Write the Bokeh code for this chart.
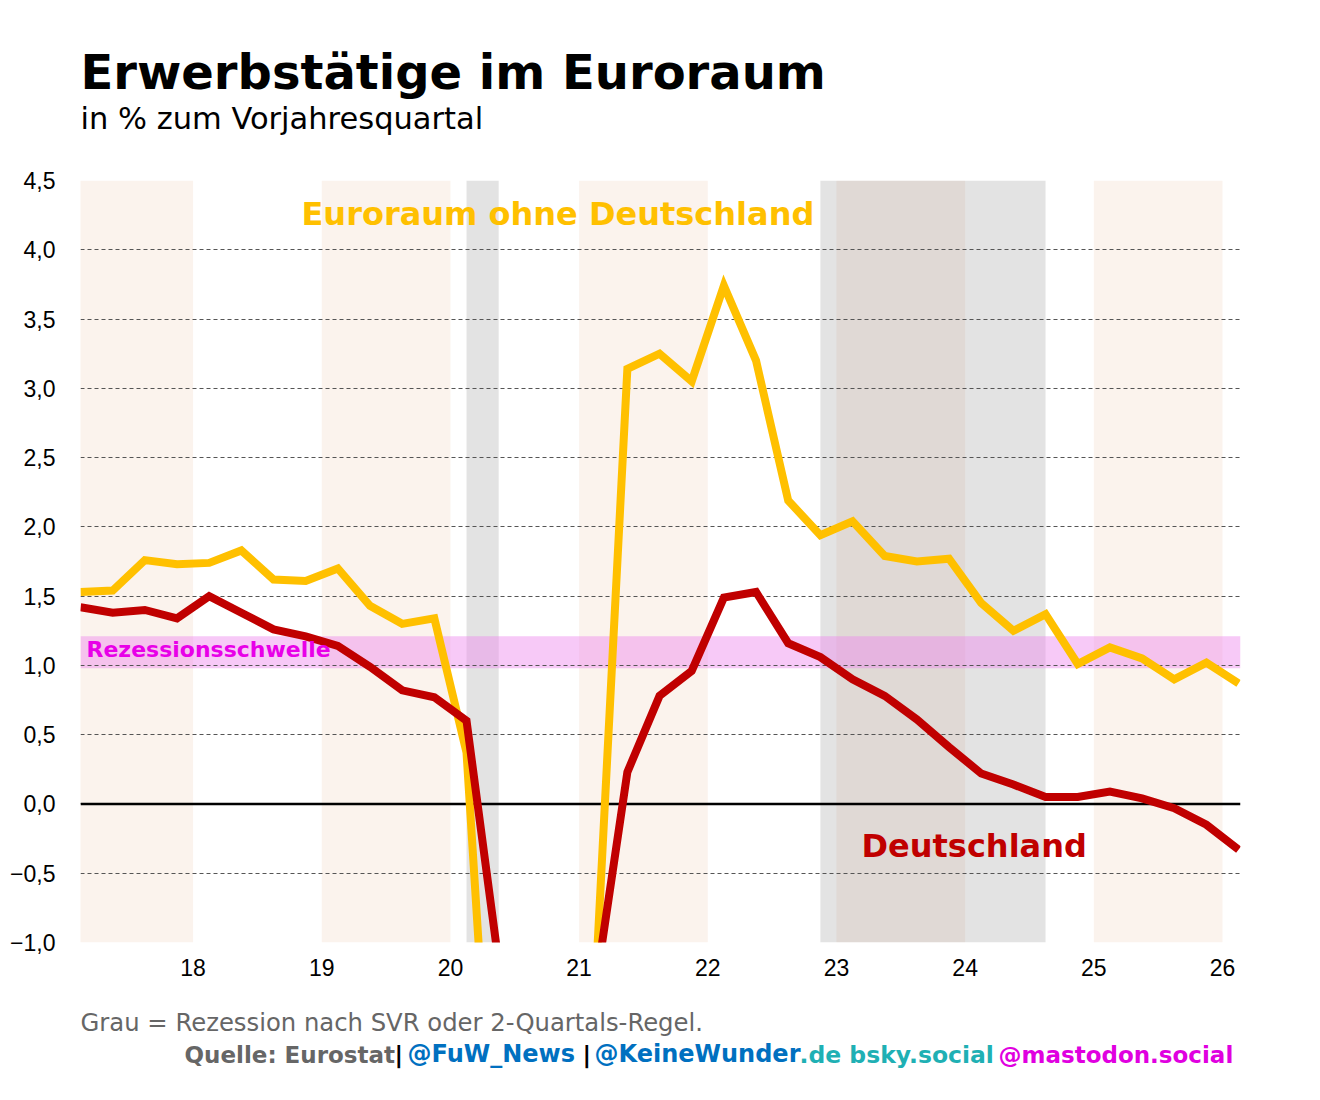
from bokeh.plotting import figure
from bokeh.models import Label, Span, FixedTicker, Range1d
from bokeh.layouts import column
from bokeh.embed import file_html
from bokeh.resources import INLINE

# ---------------- data ----------------
years = [y for y in range(2017, 2027) for _ in range(4)][:37]
quarter = [q for _ in range(2017, 2027) for q in (1, 2, 3, 4)][:37]

euro_ex_de = [1.53, 1.54, 1.76, 1.73,
              1.74, 1.83, 1.62, 1.61,
              1.70, 1.43, 1.30, 1.34,
              0.37, -3.30, -2.30, -2.00,
              -1.35, 3.14, 3.25, 3.05,
              3.74, 3.20, 2.19, 1.94,
              2.04, 1.79, 1.75, 1.77,
              1.45, 1.25, 1.37, 1.01,
              1.13, 1.05, 0.90, 1.02,
              0.87]

deutschland = [1.42, 1.38, 1.40, 1.34,
               1.50, 1.38, 1.26, 1.21,
               1.14, 0.99, 0.82, 0.77,
               0.60, -1.15, -1.30, -1.40,
               -1.34, 0.23, 0.78, 0.96,
               1.49, 1.53, 1.16, 1.06,
               0.90, 0.78, 0.61, 0.41,
               0.22, 0.14, 0.05, 0.05,
               0.09, 0.04, -0.03, -0.15,
               -0.33]

x_ticks = [2018, 2019, 2020, 2021, 2022, 2023, 2024, 2025, 2026]
x_tick_labels = ["18", "19", "20", "21", "22", "23", "24", "25", "26"]
y_ticks = [-1.0, -0.5, 0.0, 0.5, 1.0, 1.5, 2.0, 2.5, 3.0, 3.5, 4.0, 4.5]
y_tick_labels = ["\u22121,0", "\u22120,5", "0,0", "0,5", "1,0", "1,5",
                 "2,0", "2,5", "3,0", "3,5", "4,0", "4,5"]

year_band_start = [2017, 2019, 2021, 2023, 2025]
year_band_end = [2018, 2020, 2022, 2024, 2026]
recession_start = [2020.125, 2022.875]
recession_end = [2020.375, 2024.625]
threshold_low = [0.98]
threshold_high = [1.21]

x_pos = [y + (q - 0.5) / 4 for y, q in zip(years, quarter)]

# ---------------- layout ----------------
W = 1320
HEAD_H, FOOT_H = 168, 96
FL, FR = 80, 1240           # frame left/right (px)
FT, FB = 180, 942           # frame top/bottom (page px)
MAIN_TOP = HEAD_H
MAIN_H = 1000 - HEAD_H
X0, X1 = 2017.125, 2026.14
Y0, Y1 = -1.0, 4.5
BASE_SHIFT = 0.38  # Label alphabetic-baseline correction (em)


def text_fig(h):
    f = figure(width=W, height=h, x_range=Range1d(FL, FR), y_range=Range1d(h, 0),
               output_backend="svg", toolbar_location=None,
               min_border_left=FL, min_border_right=W - FR,
               min_border_top=0, min_border_bottom=0,
               x_axis_location=None, y_axis_location=None)
    f.grid.visible = False
    f.outline_line_color = None
    f.background_fill_color = "white"
    f.border_fill_color = "white"
    return f


def label(fig, text, x, y, size, color, bold=False, font="DejaVu Sans", conv=None):
    yb = y - BASE_SHIFT * size
    if conv is not None:
        x, yb = conv[0](x), conv[1](yb)
    fig.add_layout(Label(x=x, y=yb, text=text, text_font=font,
                         text_font_size=f"{size}px", text_color=color,
                         text_font_style="bold" if bold else "normal",
                         text_align="left", text_baseline="alphabetic"))


# header
head = text_fig(HEAD_H)
label(head, "Erwerbstätige im Euroraum", 80, 90, 48, "black", bold=True)
label(head, "in % zum Vorjahresquartal", 80, 130, 30.5, "black")

# main chart
p = figure(width=W, height=MAIN_H, x_range=Range1d(X0, X1), y_range=Range1d(Y0, Y1),
           output_backend="svg", toolbar_location=None,
           min_border_left=FL, min_border_right=W - FR,
           min_border_top=FT - MAIN_TOP, min_border_bottom=MAIN_TOP + MAIN_H - FB)
p.outline_line_color = None
p.background_fill_color = "white"
p.border_fill_color = "white"

p.xgrid.visible = False
p.ygrid.grid_line_color = "#555555"
p.ygrid.grid_line_dash = "4 3"
p.ygrid.grid_line_width = 1.2

p.yaxis.ticker = FixedTicker(ticks=y_ticks)
p.yaxis.major_label_overrides = {t: l for t, l in zip(y_ticks, y_tick_labels)}
p.xaxis.ticker = FixedTicker(ticks=x_ticks)
p.xaxis.major_label_overrides = {t: l for t, l in zip(x_ticks, x_tick_labels)}
for ax in (p.xaxis, p.yaxis):
    ax.axis_line_color = None
    ax.major_tick_line_color = None
    ax.minor_tick_line_color = None
    ax.major_tick_out = 0
    ax.major_tick_in = 0
    ax.minor_tick_out = 0
    ax.major_label_text_font = "Liberation Sans"
    ax.major_label_text_font_size = "23px"
    ax.major_label_text_color = "black"
p.yaxis.major_label_standoff = 25
p.xaxis.major_label_standoff = 16

# background bands
p.quad(left=year_band_start, right=year_band_end,
       bottom=[Y0] * len(year_band_start), top=[Y1] * len(year_band_start),
       fill_color="#FBF3ED", line_color=None, level="image")
p.quad(left=recession_start, right=recession_end,
       bottom=[Y0] * len(recession_start), top=[Y1] * len(recession_start),
       fill_color="#888888", fill_alpha=0.23, line_color=None, level="image")
p.quad(left=[X0], right=[X1], bottom=threshold_low, top=threshold_high,
       fill_color="#EE88EE", fill_alpha=0.45, line_color=None, level="image")

p.add_layout(Span(location=0, dimension="width", line_color="black",
                  line_width=2.5, level="underlay"))

# series
p.line(x_pos, euro_ex_de, line_color="#FFC000", line_width=8, line_join="miter")
p.line(x_pos, deutschland, line_color="#C00000", line_width=8, line_join="miter")


def dx(px):
    return X0 + (px - FL) / (FR - FL) * (X1 - X0)


def dy(py):
    return Y1 - (py - FT) / (FB - FT) * (Y1 - Y0)


conv = (dx, dy)
label(p, "Euroraum ohne Deutschland", 301, 226, 32, "#FFC000", bold=True, conv=conv)
label(p, "Deutschland", 861, 858, 32, "#C00000", bold=True, conv=conv)
label(p, "Rezessionsschwelle", 86, 657, 22, "#E800E8", bold=True, conv=conv)

# footer
foot = text_fig(FOOT_H)
label(foot, "Grau = Rezession nach SVR oder 2-Quartals-Regel.", 80, 31, 24.3, "#666666")
label(foot, "Quelle: Eurostat", 184, 63, 23, "#666666", bold=True)
label(foot, "|", 394, 63, 23.5, "black", bold=True)
label(foot, "@FuW_News", 407, 63, 24, "#0070C0", bold=True)
label(foot, "|", 582, 63, 23.5, "black", bold=True)
label(foot, "@KeineWunder", 594, 63, 24, "#0070C0", bold=True)
label(foot, ".de bsky.social", 799, 63, 23.5, "#1FB0B4", bold=True)
label(foot, "@mastodon.social", 998, 63, 23, "#E000E0", bold=True)

layout = column(head, p, foot, spacing=0)
open("out.html", "w").write(file_html(layout, INLINE))
